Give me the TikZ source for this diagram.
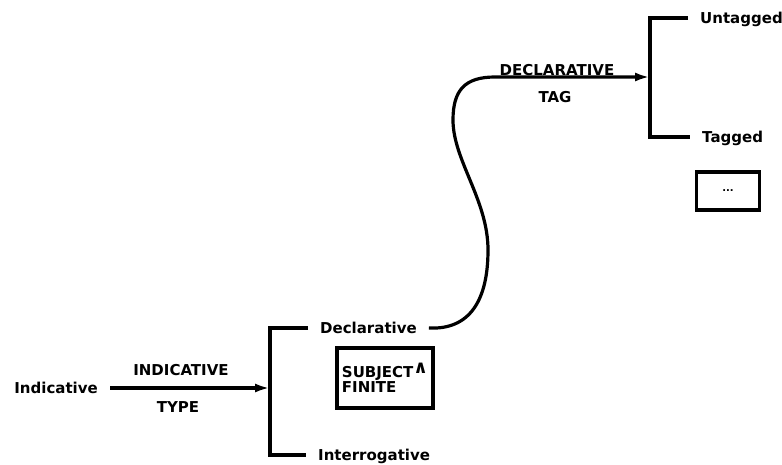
\documentclass[tikz,border=0pt]{standalone}
\usepackage{fontspec}
\setmainfont{DejaVu Sans}
\usetikzlibrary{arrows.meta}

\begin{document}
\begin{tikzpicture}[x=1pt,y=-1pt,
    word/.style={font=\bfseries\fontsize{15}{15}\selectfont,inner xsep=12pt,inner ysep=0pt,text height=10pt,text depth=0pt},
    wire/.style={line width=3.2pt,line join=miter},
    tip/.style={-{Latex[length=15pt,width=9pt]}},
    box/.style={draw,line width=3.2pt,font=\bfseries\fontsize{15}{15}\selectfont,align=left,inner sep=4pt}]
    \useasboundingbox (0,0) rectangle (782,464);
    % first system
    \node[word,anchor=east] (indic) at (110,388) {Indicative};
    \coordinate (fork1) at (270,388);
    \node[word,anchor=west] (decl) at (308,328) {Declarative};
    \node[word,anchor=west] (inter) at (306,455) {Interrogative};
    \node[word,inner xsep=0pt] (indlab) at (181,370) {INDICATIVE};
    \node[word,inner xsep=0pt] (typelab) at (178,407) {TYPE};
    \draw[wire,tip] (indic) -- (fork1);
    \draw[wire] (decl.west) -| (fork1) |- (inter.west);
    \node[box,minimum width=96pt,minimum height=60pt] (subj) at (385,378) {SUBJECT\raisebox{.3em}{\fontsize{18}{18}\selectfont ∧}\\FINITE};
    % second system
    \coordinate (fork2) at (650,77);
    \node[word,anchor=west] (untag) at (688,18) {Untagged};
    \node[word,anchor=west] (tag) at (690,137) {Tagged};
    \node[word,inner xsep=0pt] (decllab) at (557,70) {DECLARATIVE};
    \node[word,inner xsep=0pt] (taglab) at (555,97) {TAG};
    \draw[wire,tip] (decl.east) .. controls (470,330) and (488,300) .. (488,250)
        .. controls (488,200) and (453,160) .. (453,120)
        .. controls (453,90) and (465,77) .. (495,77) -- (fork2);
    \draw[wire] (untag.west) -| (fork2) |- (tag.west);
    \node[box,font=\bfseries\fontsize{10}{10}\selectfont,minimum width=63pt,minimum height=38pt] (more) at (728,191) {...};
\end{tikzpicture}
\end{document}
